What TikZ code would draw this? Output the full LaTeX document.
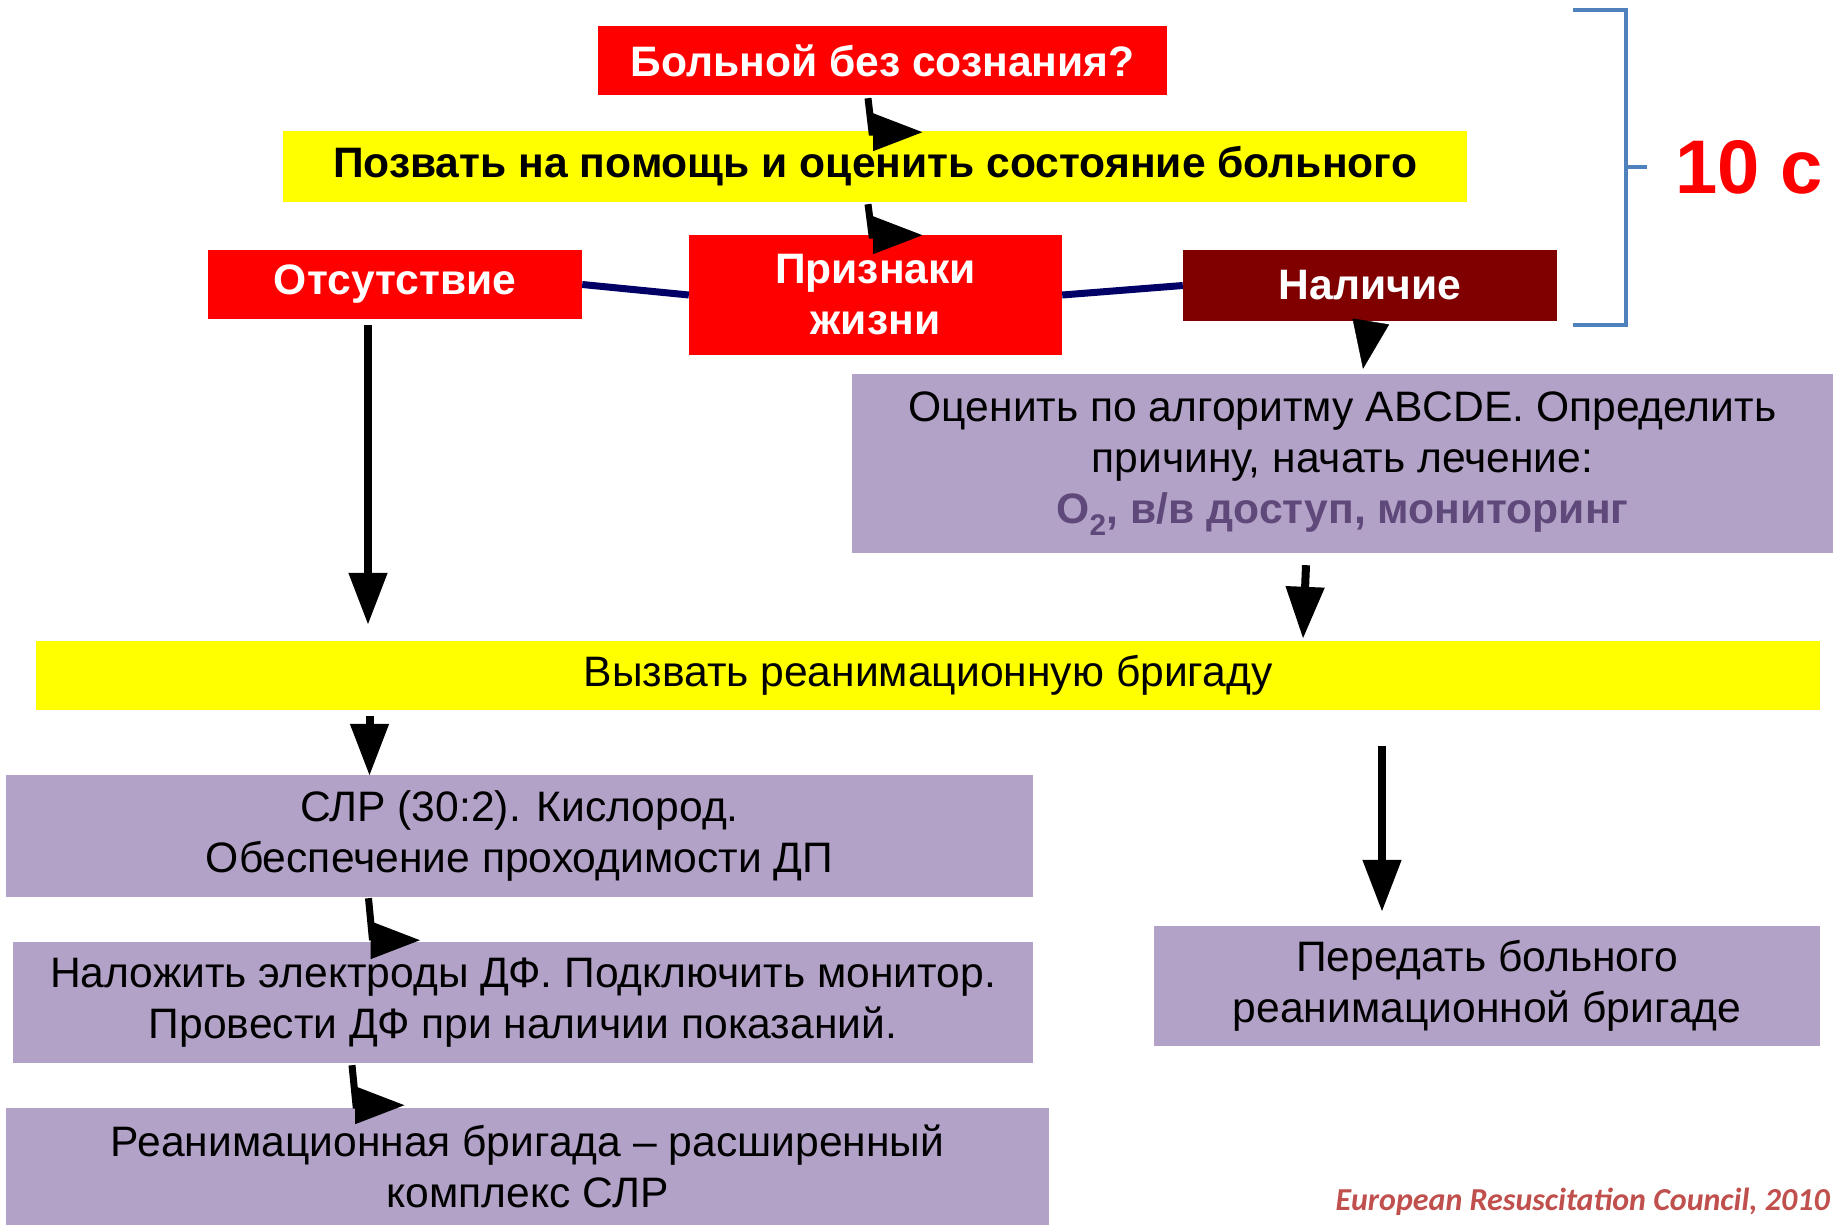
\documentclass[tikz,border=0pt]{standalone}
\usepackage{fontspec}
\setmainfont{Liberation Sans}
\newfontfamily\ercfont{Carlito}
\usetikzlibrary{positioning,arrows.meta,calc}
\definecolor{cred}{RGB}{255,0,0}
\definecolor{cdark}{RGB}{128,0,0}
\definecolor{cyel}{RGB}{255,255,0}
\definecolor{cviolet}{RGB}{179,162,199}
\definecolor{cdeep}{RGB}{95,73,122}
\definecolor{cnavy}{RGB}{0,0,102}
\definecolor{cbrace}{RGB}{79,129,189}
\definecolor{cerc}{RGB}{192,80,77}

\begin{document}
\begin{tikzpicture}[
  x=1pt, y=-1pt,
  hd/.style={font=\fontsize{42.6}{51}\selectfont\bfseries},
  txt/.style={font=\fontsize{42.6}{51}\selectfont},
  block/.style={rectangle, inner sep=0pt, align=center},
  alarm/.style={block, hd, fill=cred, text=white},
  darkbox/.style={block, hd, fill=cdark, text=white},
  callbox/.style={block, fill=cyel},
  action/.style={block, txt, fill=cviolet},
  arr/.style={line width=8pt, -{Triangle[length=52pt,width=37pt]}},
  turn/.style={line width=7pt, -{Triangle[length=50pt,width=36pt]}},
  link/.style={line width=7pt, draw=cnavy},
  brace/.style={line width=3.5pt, draw=cbrace},
  timer/.style={inner sep=0pt, font=\fontsize{76}{80}\selectfont\bfseries, text=cred}
]
\useasboundingbox (0,0) rectangle (1833,1225);

% ---------- first check ----------
\node[alarm, minimum width=569pt, minimum height=69pt] (ask) at (882.5,60.5)
  {Больной без сознания?};
\node[callbox, hd, minimum width=1184pt, minimum height=71pt] (call) at (875,166.5)
  {Позвать на помощь и оценить состояние больного};

% ---------- signs of life ----------
\node[alarm, minimum width=373pt, minimum height=120pt] (signs) at (875.5,295)
  {Признаки\\жизни};
\node[alarm, minimum width=374pt, minimum height=69pt] (absent) at (395,284.5)
  {Отсутствие};
\node[darkbox, minimum width=374pt, minimum height=71pt] (present) at (1370,285.5)
  {Наличие};
\draw[link] (absent.east) -- (signs.west);
\draw[link] (signs.east) -- (present.west);

% ---------- right branch ----------
\node[action, minimum width=981pt, minimum height=179pt] (assess) at (1342.5,463.5)
  {Оценить по алгоритму ABCDE. Определить\\
   причину, начать лечение:\\
   {\bfseries\color{cdeep}O\textsubscript{2}, в/в доступ, мониторинг}};

% ---------- team call ----------
\node[callbox, txt, minimum width=1784pt, minimum height=69pt] (alert) at (928,675.5)
  {Вызвать реанимационную бригаду};

% ---------- left branch ----------
\node[action, minimum width=1027pt, minimum height=122pt] (cpr) at (519.5,836)
  {СЛР (30:2). Кислород.\\Обеспечение проходимости ДП};
\node[action, minimum width=1020pt, minimum height=121pt] (defib) at (523,1002.5)
  {Наложить электроды ДФ. Подключить монитор.\\Провести ДФ при наличии показаний.};
\node[action, minimum width=1043pt, minimum height=117pt] (team) at (527.5,1166.5)
  {Реанимационная бригада – расширенный\\комплекс СЛР};
\node[action, minimum width=666pt, minimum height=120pt] (hand) at (1487,986)
  {Передать больного\\реанимационной бригаде};

% ---------- arrows ----------
\draw[turn] ($(ask.south)+(-14.5,3)$) -- ++(4,34) -- ++(51,0);
\draw[turn] ($(call.south)+(-7,2)$) -- ++(4,31) -- ++(51,0);
\draw[turn] ($(cpr.south)+(-151,1)$) -- ++(4,42) -- ++(48,0);
\draw[turn] ($(defib.south)+(-171,2)$) -- ++(4,40) -- ++(49,0);

\draw[arr] ($(absent.south)+(-27,6)$) -- ($(alert.north -| absent.south)+(-27,-16)$);
\draw[arr] ($(alert.south -| cpr.north)+(-150,6)$) -- ($(cpr.north)+(-150,1)$);
\draw[arr] ($(alert.south -| hand.north)+(-105,36)$) -- ($(hand.north)+(-105,-14)$);
\draw[arr] ($(assess.south)+(-36.5,12)$) -- ($(alert.north)+(375,-2)$);
\draw[-{Triangle[length=48pt,width=37pt]}] ($(present.south)+(1,-1)$) -- ($(assess.north)+(20.5,-5)$);

% ---------- 10 s bracket ----------
\draw[brace] (1573,10) -- (1626,10) -- (1626,325) -- (1573,325);
\coordinate (tick) at (1647,167);
\draw[brace] (1626,167) -- (tick);
\node[timer, right=28pt of tick] (sec) {10 с};

% ---------- source ----------
\node[anchor=east, inner sep=0pt, text=cerc,
      font=\fontsize{32}{34}\ercfont\bfseries\itshape] (erc) at (1830,1202)
  {European Resuscitation Council, 2010};

\end{tikzpicture}
\end{document}
